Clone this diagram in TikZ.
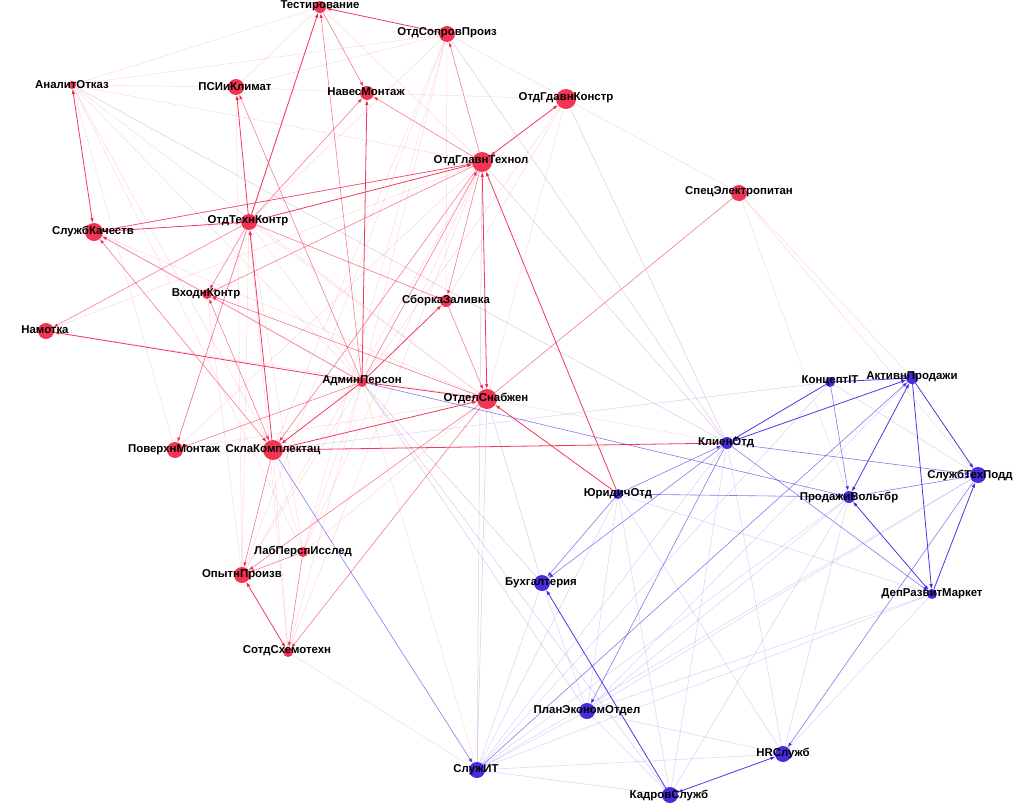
\documentclass[tikz,border=0pt]{standalone}
\usepackage{fontspec}
\setmainfont{Liberation Sans}
\usetikzlibrary{arrows.meta}
\definecolor{rc}{RGB}{240,36,72}
\definecolor{rn}{RGB}{244,52,84}
\definecolor{bc}{RGB}{58,32,226}
\definecolor{bn}{RGB}{70,44,220}
\definecolor{pc}{RGB}{160,80,190}
\begin{document}
\begin{tikzpicture}[x=1pt,y=-1pt,>={Latex[length=5pt,width=3.6pt]},
  rnode/.style={circle,fill=rn,draw=none,inner sep=0pt,outer sep=0pt,minimum size=#1},
  bnode/.style={circle,fill=bn,draw=none,inner sep=0pt,outer sep=0pt,minimum size=#1},
  lab/.style={inner sep=0pt,text=black,font=\bfseries\fontsize{11.4}{13}\selectfont},
  rS/.style={draw=rc,line width=0.8pt,draw opacity=0.9,->},
  rM/.style={draw=rc,line width=0.6pt,draw opacity=0.6,->},
  rF/.style={draw=rc,line width=0.5pt,draw opacity=0.18},
  bS/.style={draw=bc,line width=0.8pt,draw opacity=0.9,->},
  bM/.style={draw=bc,line width=0.6pt,draw opacity=0.6,->},
  bF/.style={draw=bc,line width=0.5pt,draw opacity=0.2},
  pF/.style={draw=pc,line width=0.5pt,draw opacity=0.32},
  bi/.style={<->}]
\useasboundingbox (0,0) rectangle (1014,803);
% ---------- nodes (circles) ----------
\node[rnode=12pt] (T) at (320,7) {};
\node[rnode=16pt] (OSP) at (447,34) {};
\node[rnode=8pt] (AO) at (72,85) {};
\node[rnode=16pt] (PSI) at (236,87) {};
\node[rnode=14pt] (NM) at (367,93) {};
\node[rnode=20pt] (OGK) at (566,99) {};
\node[rnode=20pt] (OGT) at (482,162) {};
\node[rnode=16pt] (SE) at (739,193) {};
\node[rnode=16pt] (OTK) at (249,222) {};
\node[rnode=18pt] (SK) at (94,232) {};
\node[rnode=10pt] (VK) at (207,294) {};
\node[rnode=16pt] (NA) at (46,331) {};
\node[rnode=12pt] (SZ) at (446,301) {};
\node[rnode=10pt] (AP) at (362,382) {};
\node[rnode=20pt] (OS) at (487,399) {};
\node[rnode=16pt] (PM) at (175,450) {};
\node[rnode=20pt] (SKL) at (273,450) {};
\node[rnode=10pt] (LPI) at (303,552) {};
\node[rnode=16pt] (OP) at (242,575) {};
\node[rnode=10pt] (SS) at (288,652) {};
\node[bnode=10pt] (KIT) at (830,382) {};
\node[bnode=12pt] (AKP) at (912,378) {};
\node[bnode=12pt] (KO) at (727,443) {};
\node[bnode=10pt] (YO) at (618,494) {};
\node[bnode=16pt] (STP) at (978,475) {};
\node[bnode=12pt] (PV) at (849,497) {};
\node[bnode=16pt] (BU) at (542,583) {};
\node[bnode=10pt] (DRM) at (932,594) {};
\node[bnode=16pt] (PEO) at (587,711) {};
\node[bnode=16pt] (HR) at (783,754) {};
\node[bnode=16pt] (SIT) at (477,770) {};
\node[bnode=16pt] (KS) at (670,795) {};
% ---------- faint edges ----------
\foreach \a/\b in {AO/PSI,AO/T,AO/OSP,AO/OGT,AO/PM,AO/LPI,AO/AP,AO/OS,AO/SKL,T/PSI,T/OGT,T/PM,
  OSP/OGK,OSP/PSI,OSP/OTK,OSP/SZ,OSP/AP,OSP/LPI,OSP/SKL,OSP/OP,OGK/NM,OGK/OS,OGK/SE,OGK/SZ,OGK/AP,
  PSI/NM,PSI/OP,OGT/PM,OGT/OP,OGT/LPI,OGT/NA,OGT/SS,OTK/OP,OTK/AP,OTK/OS,OTK/LPI,OTK/SS,SK/AP,SK/OS,
  OS/NA,OS/PM,OS/LPI,AP/LPI,AP/OP,AP/SS,SKL/LPI,SKL/SS,VK/OP,SE/AKP,SE/STP,SE/PV,OS/KO,SS/SIT,AP/SIT}
  {\draw[rF] (\a) -- (\b);}
\foreach \a/\b in {SIT/BU,SIT/PEO,SIT/YO,SIT/KO,SIT/PV,SIT/STP,SIT/DRM,SIT/HR,SIT/KS,SIT/KIT,
  YO/PEO,YO/KS,YO/HR,YO/DRM,PEO/HR,PEO/KS,PEO/BU,PEO/STP,PEO/AKP,PV/HR,PV/KS,PV/PEO,DRM/HR,DRM/PEO,
  KO/KS,KO/HR,SKL/KIT,KIT/STP}
  {\draw[bF] (\a) -- (\b);}
\foreach \a/\b in {AO/KO,OGT/KO,OSP/KO,OGK/KO,OS/BU,AP/BU,AP/PEO,AP/KS,OS/SIT,OGT/SIT}
  {\draw[pF] (\a) -- (\b);}
% ---------- medium edges ----------
\foreach \a/\b in {AP/PSI,AP/T,T/NM,OTK/NM,OGT/NM,OGT/OSP,OGT/SK,OGT/SZ,OTK/VK,OTK/PM,OTK/SZ,
  AP/PM,AP/VK,OS/VK,VK/SK,SZ/OS,OS/OP,OS/SS,LPI/OP,SKL/OP,AP/OGT,OGT/VK,OGT/SKL,SK/OGT,LPI/SS,OTK/NA}
  {\draw[rM] (\a) -- (\b);}
\draw[rM,-] (SE) -- (OS);
\draw[rM,bi] (SKL) -- (VK);
\draw[rM,bi] (SK) -- (SKL);
\foreach \a/\b in {SIT/AKP,AP/PV,YO/KO,YO/BU,KO/BU,KO/PEO,KO/STP,PV/STP,KIT/PV,STP/HR,YO/PV,KO/DRM,SKL/SIT}
  {\draw[bM] (\a) -- (\b);}
% ---------- strong edges ----------
\foreach \a/\b in {OTK/PSI,OTK/T,OSP/T,SK/OTK,OTK/OGT,AP/OS,AP/SKL,AP/SZ,AP/NM,AP/NA,SKL/OS,
  YO/OGT,YO/OS,SKL/OTK}
  {\draw[rS] (\a) -- (\b);}
\draw[rS,-] (SKL) -- (KO);
\draw[rS,bi] (AO) -- (SK);
\draw[rS,bi] (OGK) -- (OGT);
\draw[rS,bi] (OGT) -- (OS);
\draw[rS,bi] (OP) -- (SS);
\foreach \a/\b in {KIT/KO,KIT/AKP,AKP/DRM,AKP/STP,DRM/STP,KS/BU}
  {\draw[bS] (\a) -- (\b);}
\draw[bS,bi] (AKP) -- (KO);
\draw[bS,bi] (AKP) -- (PV);
\draw[bS,bi] (PV) -- (DRM);
\draw[bS,bi] (KS) -- (HR);
% ---------- labels ----------
\node[lab] at (320,6) {Тестирование};
\node[lab] at (447,33) {ОтдСопровПроиз};
\node[lab] at (72,85) {АналитОтказ};
\node[lab] at (235,87) {ПСИиКлимат};
\node[lab] at (366,92) {НавесМонтаж};
\node[lab] at (566,98) {ОтдГдавнКонстр};
\node[lab] at (481,161) {ОтдГлавнТехнол};
\node[lab] at (739,192) {СпецЭлектропитан};
\node[lab] at (248,221) {ОтдТехнКонтр};
\node[lab] at (93,231) {СлужбКачеств};
\node[lab] at (206,294) {ВходнКонтр};
\node[lab] at (45,330) {Намотка};
\node[lab] at (446,300) {СборкаЗаливка};
\node[lab] at (362,381) {АдминПерсон};
\node[lab] at (486,398) {ОтделСнабжен};
\node[lab] at (174,450) {ПоверхнМонтаж};
\node[lab] at (273,450) {СклаКомплектац};
\node[lab] at (303,551) {ЛабПерспИсслед};
\node[lab] at (242,575) {ОпытнПроизв};
\node[lab] at (287,651) {СотдСхемотехн};
\node[lab] at (830,381) {КонцептIT};
\node[lab] at (912,377) {АктивнПродажи};
\node[lab] at (726,443) {КлиенОтд};
\node[lab] at (618,494) {ЮридичОтд};
\node[lab] at (970,475) {СлужбТехПодд};
\node[lab] at (849,497) {ПродажиВольтбр};
\node[lab] at (541,583) {Бухгалтерия};
\node[lab] at (932,594) {ДепРазвитМаркет};
\node[lab] at (587,711) {ПланЭкономОтдел};
\node[lab] at (783,753) {HRСлужб};
\node[lab] at (476,770) {СлужИТ};
\node[lab] at (669,795) {КадровСлужб};
\end{tikzpicture}
\end{document}
